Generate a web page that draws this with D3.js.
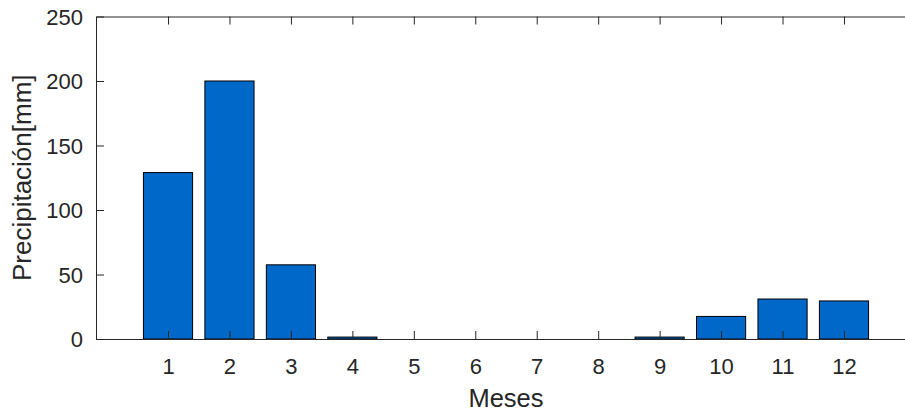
<!doctype html>
<html>
<head>
    <meta charset="UTF-8">
    <title>Precipitacion</title>
    <script src="https://cdn.jsdelivr.net/npm/d3@7"></script>
    <style>
        body { margin: 0; background: #fff; }
        text { font-family: "Liberation Sans", Arial, sans-serif; fill: #262626; }
    </style>
</head>
<body>
    <svg class="svg1" width="905" height="412"></svg>
</body>
<script>
    var meses = [1, 2, 3, 4, 5, 6, 7, 8, 9, 10, 11, 12];
    var precipitacion = [129, 200, 57.5, 1.5, 0, 0, 0, 0, 1.5, 17.5, 31, 29.5];
    var yTicks = [0, 50, 100, 150, 200, 250];

    var svg = d3.select(".svg1");
    // plot box (the right edge falls outside the window, like the reference)
    var mLeft = 96, mTop = 16.5, mRight = 916, mBottom = 339;

    var x = d3.scaleLinear().domain([-0.172, 13.172]).range([mLeft, mRight]);
    var y = d3.scaleLinear().domain([0, 250]).range([mBottom, mTop]);
    var barW = (x(1) - x(0)) * 0.8;

    svg.append("g").attr("class", "bars")
        .selectAll("rect").data(meses)
        .enter().append("rect")
        .attr("x", function (d) { return x(d) - barW / 2; })
        .attr("y", function (d, i) { return y(precipitacion[i]); })
        .attr("width", barW)
        .attr("height", function (d, i) { return y(0) - y(precipitacion[i]); })
        .attr("fill", "#0068c8")
        .attr("stroke", "#000")
        .attr("stroke-width", 1);

    // ejes con ticks hacia dentro, estilo matlab
    var axisColor = "#262626";
    var xAxis = svg.append("g").attr("transform", "translate(0," + mBottom + ")")
        .call(d3.axisBottom(x).tickValues(meses).tickSizeInner(-8).tickSizeOuter(0).tickPadding(19));
    var xTop = svg.append("g").attr("transform", "translate(0," + mTop + ")")
        .call(d3.axisTop(x).tickValues(meses).tickSizeInner(-8).tickSizeOuter(0).tickFormat(""));
    var yAxis = svg.append("g").attr("transform", "translate(" + mLeft + ",0)")
        .call(d3.axisLeft(y).tickValues(yTicks).tickSizeInner(-8).tickSizeOuter(0).tickPadding(13));

    [xAxis, xTop, yAxis].forEach(function (g) {
        g.selectAll("path, line").attr("stroke", axisColor).attr("stroke-width", 1);
        g.selectAll("text").attr("font-size", 22).attr("fill", "#333")
            .style("font-family", "'Liberation Sans', Arial, sans-serif");
    });
    yAxis.selectAll("text").attr("dy", "0.36em");

    svg.append("text")
        .attr("x", (mLeft + mRight) / 2)
        .attr("y", 407)
        .attr("text-anchor", "middle")
        .attr("font-size", 25.5)
        .attr("fill", "#333")
        .text("Meses");

    svg.append("text")
        .attr("transform", "translate(31," + (mTop + mBottom) / 2 + ") rotate(-90)")
        .attr("text-anchor", "middle")
        .attr("font-size", 26)
        .attr("fill", "#333")
        .text("Precipitación[mm]");
</script>
</html>
